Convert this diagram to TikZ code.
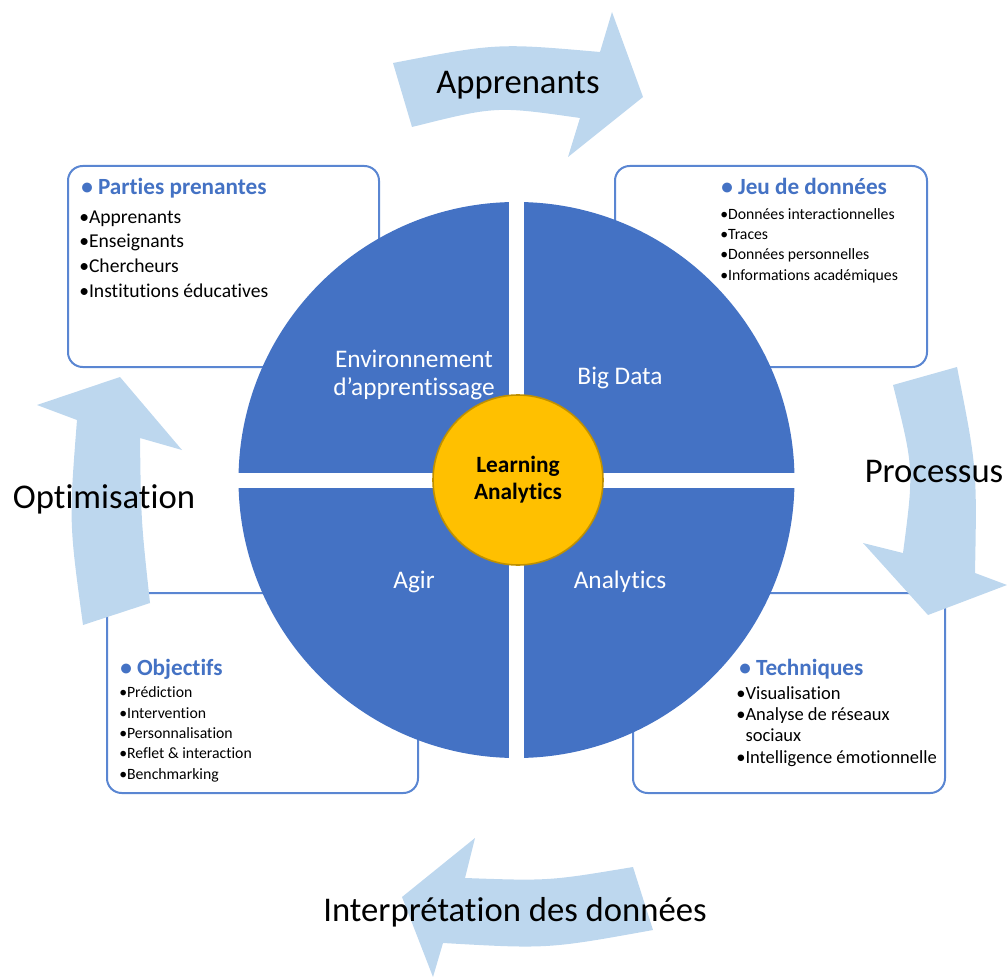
\documentclass[tikz,border=0pt]{standalone}
\usepackage{fontspec}
\setmainfont[Ligatures=NoCommon]{Carlito}
\usepackage{tikz}
\definecolor{LABlue}{HTML}{4472C4}
\definecolor{LAFrame}{HTML}{5A86D2}
\definecolor{LAPale}{HTML}{BDD7EE}
\definecolor{LAGold}{HTML}{FFC000}
\definecolor{LAGoldDark}{HTML}{BF9000}

\begin{document}
\begin{tikzpicture}[
 x=0.75pt,y=-0.75pt,
 panel/.style={draw=LAFrame,line width=1.5pt,rounded corners=11pt,fill=white},
 bigarrow/.style={fill=LAPale,draw=none},
 cyclelabel/.style={inner sep=0pt,font=\fontsize{26}{30}\selectfont,text=black},
 quadlabel/.style={inner sep=0pt,align=center,font=\fontsize{19}{21}\selectfont,text=white},
 heading/.style={anchor=base west,inner sep=0pt,font=\fontsize{17.4}{20}\selectfont\bfseries,text=LABlue},
 biglist/.style={anchor=base west,inner sep=0pt,align=left,font=\fontsize{14.7}{18.5}\selectfont},
 smalllist/.style={anchor=base west,inner sep=0pt,align=left,font=\fontsize{11.8}{15.2}\selectfont}
]
\useasboundingbox (0,0) rectangle (1007,977);
% panels behind the wheel
\draw[panel] (68,166) rectangle (379,367);
\draw[panel] (615,166) rectangle (927,367);
\draw[panel] (107,593) rectangle (418,793);
\draw[panel] (633,593) rectangle (945,793);
% curved cycle arrows
\fill[bigarrow] (393,63) .. controls (497,43) .. (600,52) -- (612,12) -- (643,97) -- (568,157) -- (580,118) .. controls (496,106) .. (412,127) -- cycle;
\fill[bigarrow] (893,385) -- (957,367) .. controls (977,468) .. (975,573) -- (1007,585) -- (928,615) -- (863,543) -- (903,553) .. controls (914,469) .. (893,385) -- cycle;
\fill[bigarrow] (633,867) .. controls (549,881) .. (465,878) -- (475,838) -- (402,897) -- (433,977) -- (443,943) .. controls (548,949) .. (653,930) -- cycle;
\fill[bigarrow] (83,625) -- (150,603) .. controls (141,520) .. (140,438) -- (182,450) -- (120,377) -- (37,405) -- (77,420) .. controls (69,522) .. (83,625) -- cycle;
% wheel
\fill[LABlue] (516.5,480) circle[radius=278];
\fill[white] (230,472.5) rectangle (803,487.5);
\fill[white] (509,195) rectangle (524,765);
\node[circle,fill=LAGold,draw=LAGoldDark,line width=1.2pt,minimum size=127.5pt,align=center,
 font=\fontsize{17.5}{20.3}\selectfont\bfseries] (core) at (518,480) {Learning\\Analytics};
\node[quadlabel] (env) at (414,375) {Environnement\\d’apprentissage};
\node[quadlabel] (bigdata) at (620,378) {Big Data};
\node[quadlabel] (agir) at (414,582) {Agir};
\node[quadlabel] (analytics) at (620,582) {Analytics};
% cycle labels (last line baselines are used for the lists)
\node[cyclelabel] (apprenants) at (518,85) {Apprenants};
\node[cyclelabel] (processus) at (934,472) {Processus};
\node[cyclelabel] (interp) at (515,912) {Interprétation des données};
\node[cyclelabel] (optim) at (104,499) {Optimisation};
% panel texts
\node[heading] (parties) at (81,195) {• Parties prenantes};
\node[biglist] (partieslist) at (79,297) {•Apprenants\\•Enseignants\\•Chercheurs\\•Institutions éducatives};
\node[heading] (jeu) at (721,195) {• Jeu de données};
\node[smalllist] (jeulist) at (720,280) {•Données interactionnelles\\•Traces\\•Données personnelles\\•Informations académiques};
\node[heading] (objectifs) at (120,675) {• Objectifs};
\node[smalllist] (objectifslist) at (119,779) {•Prédiction\\•Intervention\\•Personnalisation\\•Reflet \& interaction\\•Benchmarking};
\node[heading] (techniques) at (739,675) {• Techniques};
\node[biglist,font=\fontsize{13.9}{15.8}\selectfont] (techniqueslist) at (736,763) {•Visualisation\\•Analyse de réseaux\\\phantom{•}sociaux\\•Intelligence émotionnelle};
\end{tikzpicture}
\end{document}
